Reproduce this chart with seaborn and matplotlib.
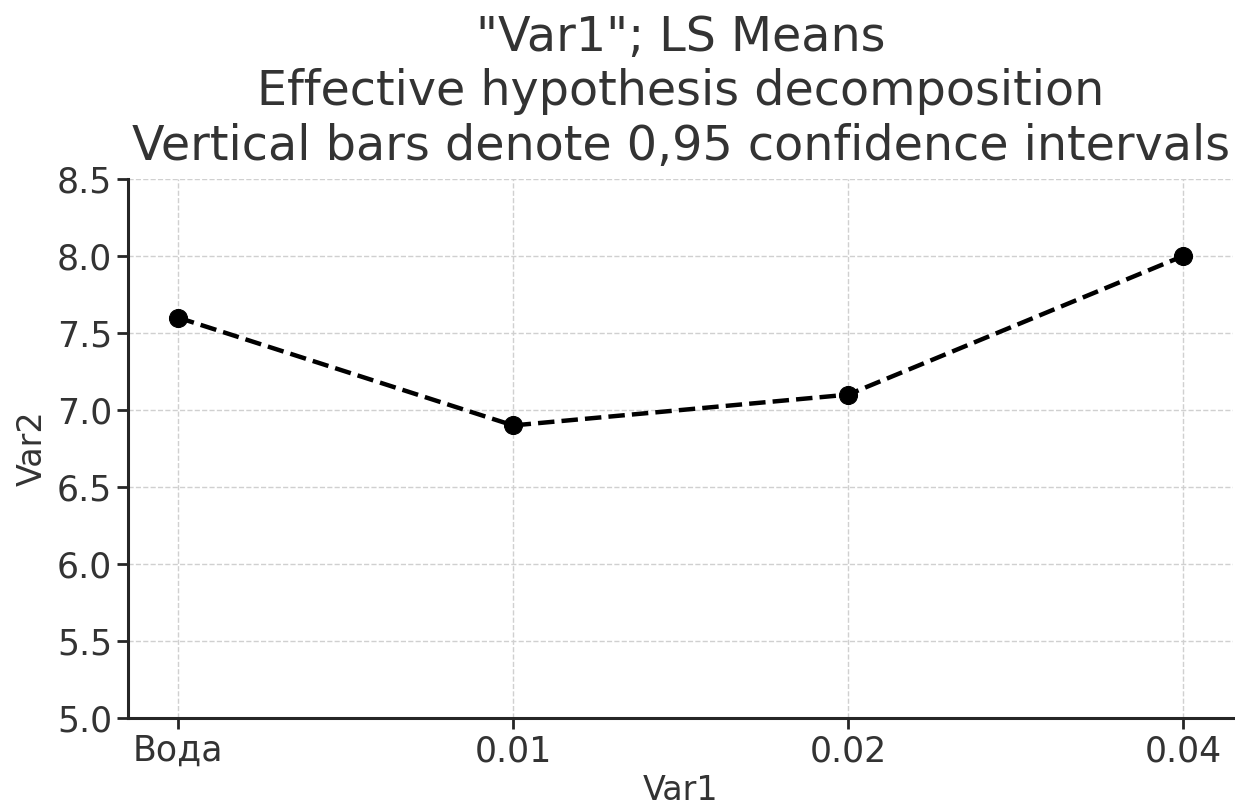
import numpy as np
import pandas as pd
import matplotlib
matplotlib.use("Agg")
import matplotlib.pyplot as plt
import seaborn as sns

# data
categories = ["Вода", "0.01", "0.02", "0.04"]
means = [7.6, 6.9, 7.1, 8.0]
y_ticks = [5.0, 5.5, 6.0, 6.5, 7.0, 7.5, 8.0, 8.5]

df = pd.DataFrame({"Var1": categories, "Var2": means})

sns.set_style("whitegrid", {
    "grid.linestyle": "--",
    "grid.color": "#d0d0d0",
    "axes.edgecolor": "#262626",
})
plt.rcParams["font.family"] = ["DejaVu Sans"]
text_color = "#333333"

fig = plt.figure(figsize=(12.35, 8.05), dpi=100)
ax = fig.add_axes([0.1036, 0.108, 0.895, 0.6696])

sns.lineplot(
    data=df,
    x="Var1",
    y="Var2",
    color="black",
    linestyle="--",
    linewidth=3.2,
    marker="o",
    markersize=13,
    markeredgecolor="black",
    ax=ax
)

ax.set_xlim(-0.15, 3.15)
ax.set_ylim(5.0, 8.5)
ax.set_yticks(y_ticks)
ax.grid(True, linestyle="--", color="#d0d0d0", linewidth=1)

for side in ["top", "right"]:
    ax.spines[side].set_visible(False)
for side in ["left", "bottom"]:
    ax.spines[side].set_linewidth(2.2)
    ax.spines[side].set_color("#262626")

ax.tick_params(axis="both", which="major", labelsize=25, length=8, width=2,
               direction="out", colors="#262626", labelcolor=text_color,
               bottom=True, left=True)

ax.set_xlabel("Var1", fontsize=24, color=text_color, labelpad=4)
ax.set_ylabel("Var2", fontsize=24, color=text_color, labelpad=6)
ax.set_title('"Var1"; LS Means\nEffective hypothesis decomposition\n'
             'Vertical bars denote 0,95 confidence intervals',
             fontsize=34.3, color=text_color, pad=14, linespacing=1.2)

fig.savefig("out.png", dpi=100)
